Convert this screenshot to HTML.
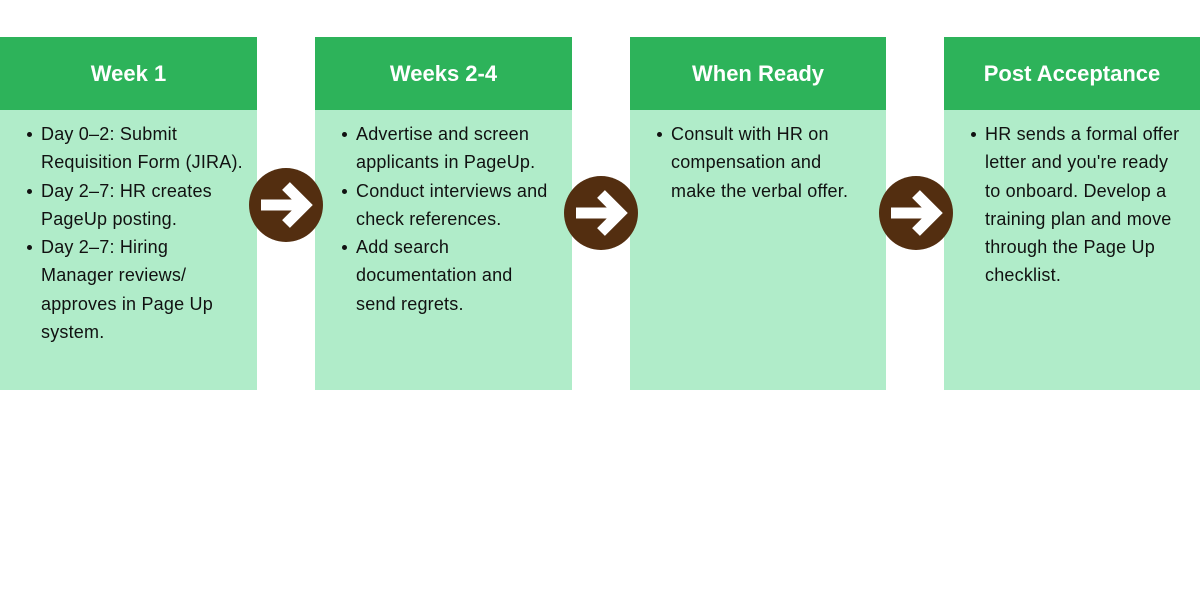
<!DOCTYPE html>
<html><head><meta charset="utf-8"><style>
*{margin:0;padding:0;box-sizing:border-box}
body{width:1200px;height:600px;background:#fff;position:relative;overflow:hidden;font-family:"Liberation Sans",sans-serif}
.col{position:absolute;top:37px;width:257px;height:353px;background:#b0ecc9}
.hd{height:73px;background:#2db35a;color:#fff;font-weight:bold;font-size:22px;text-align:center;line-height:73px}
ul{list-style:none;padding:10px 0 0 41px;font-size:18px;line-height:28.3px;color:#111;white-space:nowrap;letter-spacing:0.2px}
li{position:relative}
li:before{content:"";position:absolute;left:-14px;top:12px;width:5px;height:5px;border-radius:50%;background:#111}
.arr{position:absolute;width:74px;height:74px;border-radius:50%;background:#532e10}
.arr svg{position:absolute;left:0;top:0}
</style></head><body>
<div class="col" style="left:0"><div class="hd">Week 1</div><ul>
<li>Day 0–2: Submit<br>Requisition Form (JIRA).</li>
<li>Day 2–7: HR creates<br>PageUp posting.</li>
<li>Day 2–7: Hiring<br>Manager reviews/<br>approves in Page Up<br>system.</li></ul></div>
<div class="col" style="left:315px"><div class="hd">Weeks 2-4</div><ul>
<li>Advertise and screen<br>applicants in PageUp.</li>
<li>Conduct interviews and<br>check references.</li>
<li>Add search<br>documentation and<br>send regrets.</li></ul></div>
<div class="col" style="left:630px;width:256px"><div class="hd">When Ready</div><ul>
<li>Consult with HR on<br>compensation and<br>make the verbal offer.</li></ul></div>
<div class="col" style="left:944px;width:256px"><div class="hd">Post Acceptance</div><ul>
<li>HR sends a formal offer<br>letter and you're ready<br>to onboard. Develop a<br>training plan and move<br>through the Page Up<br>checklist.</li></ul></div>
<div class="arr" style="left:249px;top:168px"><svg width="74" height="74"><path d="M12 37H56M37 18L56 37L37 56" stroke="#fff" stroke-width="11" fill="none"/></svg></div>
<div class="arr" style="left:564px;top:176px"><svg width="74" height="74"><path d="M12 37H56M37 18L56 37L37 56" stroke="#fff" stroke-width="11" fill="none"/></svg></div>
<div class="arr" style="left:879px;top:176px"><svg width="74" height="74"><path d="M12 37H56M37 18L56 37L37 56" stroke="#fff" stroke-width="11" fill="none"/></svg></div>
</body></html>
